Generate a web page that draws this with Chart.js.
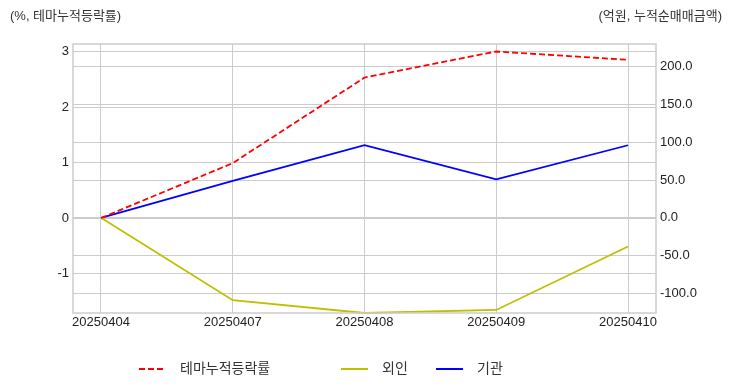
<!DOCTYPE html>
<html>
<head>
<meta charset="utf-8">
<script src="https://cdn.jsdelivr.net/npm/chart.js@4"></script>
<style>
  body { margin: 0; background: #fff; }
  #wrap { position: relative; width: 732px; height: 392px; }
</style>
</head>
<body>
<div id="wrap"><canvas id="miGrafica" width="732" height="392"></canvas></div>
<script>
'use strict'

// DATOS
const fechas = ['20250404', '20250407', '20250408', '20250409', '20250410'];
const temaAcumulado = [0, 0.99, 2.53, 3.0, 2.85];      // eje izquierdo (%)
const extranjeros = [0, -109, -126, -122, -38];      // eje derecho (억원)
const institucionales = [0, 49, 96, 51, 96];         // eje derecho (억원)

const FUENTE = '"Liberation Sans", "Noto Sans CJK KR", sans-serif';
const GRIS = '#cccccc';

// plugin para el marco, los titulos de ejes y la leyenda
const extras = {
  id: 'extras',
  afterDraw(chart) {
    const { ctx, chartArea: a } = chart;
    ctx.save();
    ctx.strokeStyle = GRIS;
    ctx.lineWidth = 1.5;
    ctx.strokeRect(a.left, a.top, a.right - a.left, a.bottom - a.top);

    ctx.fillStyle = '#333';
    ctx.font = '13px ' + FUENTE;
    ctx.textBaseline = 'middle';
    ctx.textAlign = 'left';
    ctx.fillText('(%, 테마누적등락률)', 10, 16);
    ctx.textAlign = 'right';
    ctx.fillText('(억원, 누적순매매금액)', 722, 16);

    // leyenda
    const items = [
      { x: 139, label: '테마누적등락률', color: '#ff0000', dash: [6, 3] },
      { x: 341, label: '외인', color: '#bfbf00', dash: [] },
      { x: 436, label: '기관', color: '#0000ff', dash: [] }
    ];
    const y = 369;
    ctx.font = '14px ' + FUENTE;
    ctx.textAlign = 'left';
    items.forEach(it => {
      ctx.beginPath();
      ctx.setLineDash(it.dash);
      ctx.strokeStyle = it.color;
      ctx.lineWidth = 2;
      ctx.moveTo(it.x, y);
      ctx.lineTo(it.x + 27, y);
      ctx.stroke();
      ctx.setLineDash([]);
      ctx.fillStyle = '#333';
      ctx.fillText(it.label, it.x + 41, y);
    });
    ctx.restore();
  }
};

function crearGrafica() {
  const ctx = document.getElementById('miGrafica').getContext('2d');
  const puntos = arr => arr.map((v, i) => ({ x: i, y: v }));

  new Chart(ctx, {
    type: 'line',
    data: {
      datasets: [{
        label: '테마누적등락률',
        data: puntos(temaAcumulado),
        yAxisID: 'y',
        borderColor: '#ff0000',
        borderDash: [6, 3],
        borderWidth: 1.8,
        pointRadius: 0
      }, {
        label: '외인',
        data: puntos(extranjeros),
        yAxisID: 'y2',
        borderColor: '#bfbf00',
        borderWidth: 1.8,
        pointRadius: 0
      }, {
        label: '기관',
        data: puntos(institucionales),
        yAxisID: 'y2',
        borderColor: '#0000ff',
        borderWidth: 1.8,
        pointRadius: 0
      }]
    },
    options: {
      responsive: false,
      animation: false,
      clip: false,
      layout: { padding: { top: 44, bottom: 59, left: 0, right: 0 } },
      scales: {
        x: {
          type: 'linear',
          min: -0.2125,
          max: 4.2125,
          ticks: {
            stepSize: 1,
            includeBounds: false,
            padding: 2,
            color: '#222',
            font: { family: FUENTE, size: 13 },
            maxRotation: 0,
            callback: v => fechas[v]
          },
          grid: { color: GRIS, drawTicks: false },
          border: { display: false },
          afterFit: s => { s.height = 20; }
        },
        y: {
          position: 'left',
          min: -1.71,
          max: 3.135,
          ticks: {
            stepSize: 1,
            includeBounds: false,
            padding: 4,
            color: '#222',
            font: { family: FUENTE, size: 13 }
          },
          grid: { color: GRIS, drawTicks: false },
          border: { display: false },
          afterFit: s => { s.width = 73; }
        },
        y2: {
          position: 'right',
          min: -126,
          max: 230,
          ticks: {
            stepSize: 50,
            includeBounds: false,
            padding: 4,
            color: '#222',
            font: { family: FUENTE, size: 13 },
            callback: v => v.toFixed(1)
          },
          grid: { color: GRIS, drawTicks: false },
          border: { display: false },
          afterFit: s => { s.width = 76; }
        }
      },
      plugins: {
        legend: { display: false },
        tooltip: { enabled: false }
      }
    },
    plugins: [extras]
  });
}

crearGrafica();
</script>
</body>
</html>
